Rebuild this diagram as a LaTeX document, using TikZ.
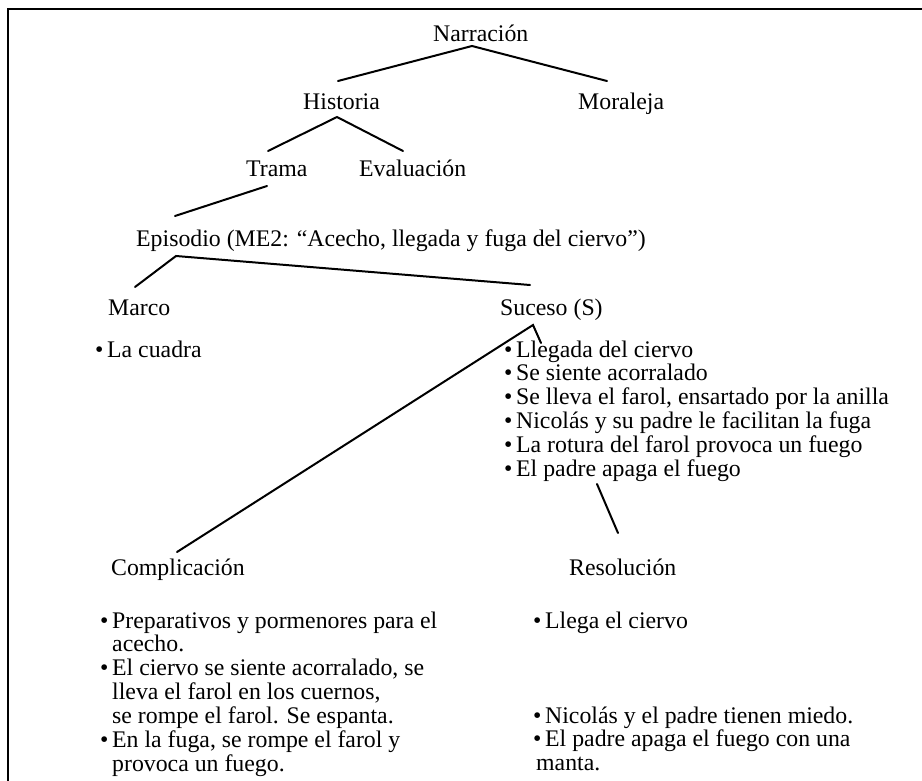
\documentclass[tikz,border=0pt]{standalone}
\usepackage{fontspec}
\setmainfont{Liberation Serif}
% hanging bullet for list items
\newcommand\bul{\llap{\textbullet\hspace{3.7pt}}}
\begin{document}
\begin{tikzpicture}[x=1pt,y=-1pt,
  lbl/.style={anchor=base west, inner sep=0pt, font=\fontsize{23.8}{23.8}\selectfont},
  branch/.style={line width=2pt, line cap=round},
  frameline/.style={line width=2.4pt}]
\useasboundingbox (0,0) rectangle (922,781);

% open frame: top and left rules
\draw[frameline] (8,781) -- (8,9) -- (922,9);

% labels
\node[lbl] (narr)   at (433,42)  {Narración};
\node[lbl] (hist)   at (303,110) {Historia};
\node[lbl] (mora)   at (578,110) {Moraleja};
\node[lbl] (trama)  at (246,177) {Trama};
\node[lbl] (eval)   at (359,177) {Evaluación};
\node[lbl] (epi)    at (136,247) {Episodio (ME2: “Acecho, llegada y fuga del ciervo”)};
\node[lbl] (marco)  at (108,315) {Marco};
\node[lbl] (suceso) at (500,315) {Suceso (S)};
\node[lbl] (cuadra) at (107,357) {\bul La cuadra};
\node[lbl] (sucList) at (516,357) {\begin{tabular}[t]{@{}l@{}}
  \bul Llegada del ciervo\\
  \bul Se siente acorralado\\
  \bul Se lleva el farol, ensartado por la anilla\\
  \bul Nicolás y su padre le facilitan la fuga\\
  \bul La rotura del farol provoca un fuego\\
  \bul El padre apaga el fuego
\end{tabular}};
\node[lbl] (compl)  at (111,575) {Complicación};
\node[lbl] (resol)  at (569,575) {Resolución};
\node[lbl] (complList) at (112,628) {\begin{tabular}[t]{@{}l@{}}
  \bul Preparativos y pormenores para el\\
  acecho.\\
  \bul El ciervo se siente acorralado, se\\
  lleva el farol en los cuernos,\\
  se rompe el farol. Se espanta.\\
  \bul En la fuga, se rompe el farol y\\
  provoca un fuego.
\end{tabular}};
\node[lbl] (resolA) at (545,628) {\bul Llega el ciervo};
\node[lbl] (resolB) at (545,723) {\begin{tabular}[t]{@{}l@{}}
  \bul Nicolás y el padre tienen miedo.\\
  \bul El padre apaga el fuego con una\\
  \hspace{-9pt}manta.
\end{tabular}};

% branch points and branch ends
\coordinate (narrJ)    at (472,46);
\coordinate (histT)    at (338,81);
\coordinate (moraT)    at (607,81);
\coordinate (histJ)    at (337,117);
\coordinate (tramaT)   at (268,151);
\coordinate (evalT)    at (403,151);
\coordinate (tramaJ)   at (267,186);
\coordinate (epiT)     at (175,216);
\coordinate (epiJ)     at (176,256);
\coordinate (marcoT)   at (135,287);
\coordinate (sucesoT)  at (530,285);
\coordinate (sucesoJ)  at (533,325);
\coordinate (sucListT) at (541,343);
\coordinate (complT)   at (177,552);
\coordinate (sucListJ) at (597,484);
\coordinate (resolT)   at (618,533);

% tree branches
\draw[branch] (histT) -- (narrJ) -- (moraT);
\draw[branch] (tramaT) -- (histJ) -- (evalT);
\draw[branch] (tramaJ) -- (epiT);
\draw[branch] (marcoT) -- (epiJ) -- (sucesoT);
\draw[branch] (complT) -- (sucesoJ) -- (sucListT);
\draw[branch] (sucListJ) -- (resolT);
\end{tikzpicture}
\end{document}
